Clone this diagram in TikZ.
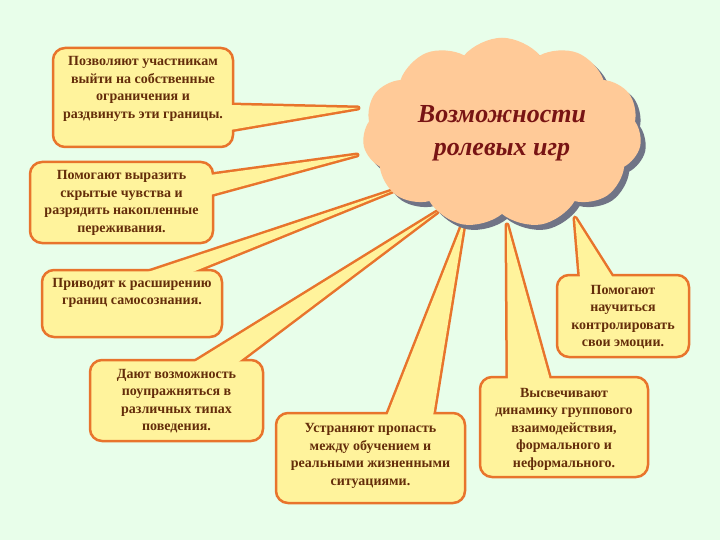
\documentclass[tikz,border=0pt]{standalone}
\usepackage{fontspec}
\setmainfont{Liberation Serif}
\usetikzlibrary{shapes.symbols,shadows,backgrounds}

\definecolor{bgmint}{RGB}{232,254,234}
\definecolor{notefill}{RGB}{255,243,156}
\definecolor{noteedge}{RGB}{232,116,44}
\definecolor{textbrown}{RGB}{100,45,10}
\definecolor{cloudfill}{RGB}{255,202,152}
\definecolor{cloudshadow}{RGB}{112,116,134}
\definecolor{titlered}{RGB}{120,20,20}

\begin{document}
\begin{tikzpicture}[x=1pt,y=-1pt]
        \tikzset{box/.style = {draw=noteedge, fill=notefill, line width=2.5pt, rounded corners=12pt, inner sep=0pt}}
        \tikzset{wedgeline/.style = {draw=noteedge, line width=5pt, line join=round}}
        \tikzset{wedgefill/.style = {fill=notefill}}
        \tikzset{notetext/.style = {align=center, text=textbrown, inner sep=0pt, font=\fontsize{14}{17.5}\selectfont\bfseries}}

        \useasboundingbox (0,0) rectangle (720,540);

        % boxes
        \node[box, minimum width=180, minimum height=99] (b1) at (143,97.5) {};
        \node[box, minimum width=183, minimum height=81] (b2) at (121.5,202.5) {};
        \node[box, minimum width=180, minimum height=67] (b3) at (132,303.5) {};
        \node[box, minimum width=173, minimum height=81] (b4) at (176.5,400.5) {};
        \node[box, minimum width=189, minimum height=90] (b5) at (370.5,458) {};
        \node[box, minimum width=168, minimum height=100] (b6) at (564,427) {};
        \node[box, minimum width=132, minimum height=82] (b7) at (623,316) {};

        % pointer ends
        \coordinate (w1a) at (230,105);  \coordinate (w1b) at (230,130);  \coordinate (p1) at (358,108);
        \coordinate (w2a) at (210,175);  \coordinate (w2b) at (210,195);  \coordinate (p2) at (357,155);
        \coordinate (w3a) at (145,273);  \coordinate (w3b) at (190,273);  \coordinate (p3) at (395,190);
        \coordinate (w4a) at (193,363);  \coordinate (w4b) at (237,363);  \coordinate (p4) at (437,212);
        \coordinate (w5a) at (387,416);  \coordinate (w5b) at (433,416);  \coordinate (p5) at (465,218);
        \coordinate (w6a) at (508,380);  \coordinate (w6b) at (550,380);  \coordinate (p6) at (507,225);
        \coordinate (w7a) at (580,278);  \coordinate (w7b) at (613,278);  \coordinate (p7) at (575,218);

        \begin{scope}[on background layer]
        \fill[bgmint] (0,0) rectangle (720,540);
        \draw[wedgeline] (w1a) -- (p1) -- (w1b) -- cycle;
        \draw[wedgeline] (w2a) -- (p2) -- (w2b) -- cycle;
        \draw[wedgeline] (w3a) -- (p3) -- (w3b) -- cycle;
        \draw[wedgeline] (w4a) -- (p4) -- (w4b) -- cycle;
        \draw[wedgeline] (w5a) -- (p5) -- (w5b) -- cycle;
        \draw[wedgeline] (w6a) -- (p6) -- (w6b) -- cycle;
        \draw[wedgeline] (w7a) -- (p7) -- (w7b) -- cycle;
        \end{scope}

        \fill[wedgefill] (w1a) -- (p1) -- (w1b) -- cycle;
        \fill[wedgefill] (w2a) -- (p2) -- (w2b) -- cycle;
        \fill[wedgefill] (w3a) -- (p3) -- (w3b) -- cycle;
        \fill[wedgefill] (w4a) -- (p4) -- (w4b) -- cycle;
        \fill[wedgefill] (w5a) -- (p5) -- (w5b) -- cycle;
        \fill[wedgefill] (w6a) -- (p6) -- (w6b) -- cycle;
        \fill[wedgefill] (w7a) -- (p7) -- (w7b) -- cycle;

        % texts
        \node[notetext] (t1) at (143,89) {Позволяют участникам\\выйти на собственные\\ограничения и\\раздвинуть эти границы.};
        \node[notetext] (t2) at (121.5,203) {Помогают выразить\\скрытые чувства и\\разрядить накопленные\\переживания.};
        \node[notetext] (t3) at (132,293) {Приводят к расширению\\границ самосознания.};
        \node[notetext] (t4) at (176.5,401) {Дают возможность\\поупражняться в\\различных типах\\поведения.};
        \node[notetext] (t5) at (370.5,456) {Устраняют пропасть\\между обучением и\\реальными жизненными\\ситуациями.};
        \node[notetext] (t6) at (564,429) {Высвечивают\\динамику группового\\взаимодействия,\\формального и\\неформального.};
        \node[notetext] (t7) at (623,317) {Помогают\\научиться\\контролировать\\свои эмоции.};

        % cloud
        \node[cloud, cloud puffs=11, cloud puff arc=100, aspect=1.5, fill=cloudfill, minimum width=279, minimum height=187,
              drop shadow={shadow xshift=5pt, shadow yshift=-5pt, fill=cloudshadow, opacity=1},
              align=center, text=titlered, font=\fontsize{26}{33}\selectfont\bfseries\itshape] (cloud) at (502,133) {Возможности\\ролевых игр};

\end{tikzpicture}
\end{document}
